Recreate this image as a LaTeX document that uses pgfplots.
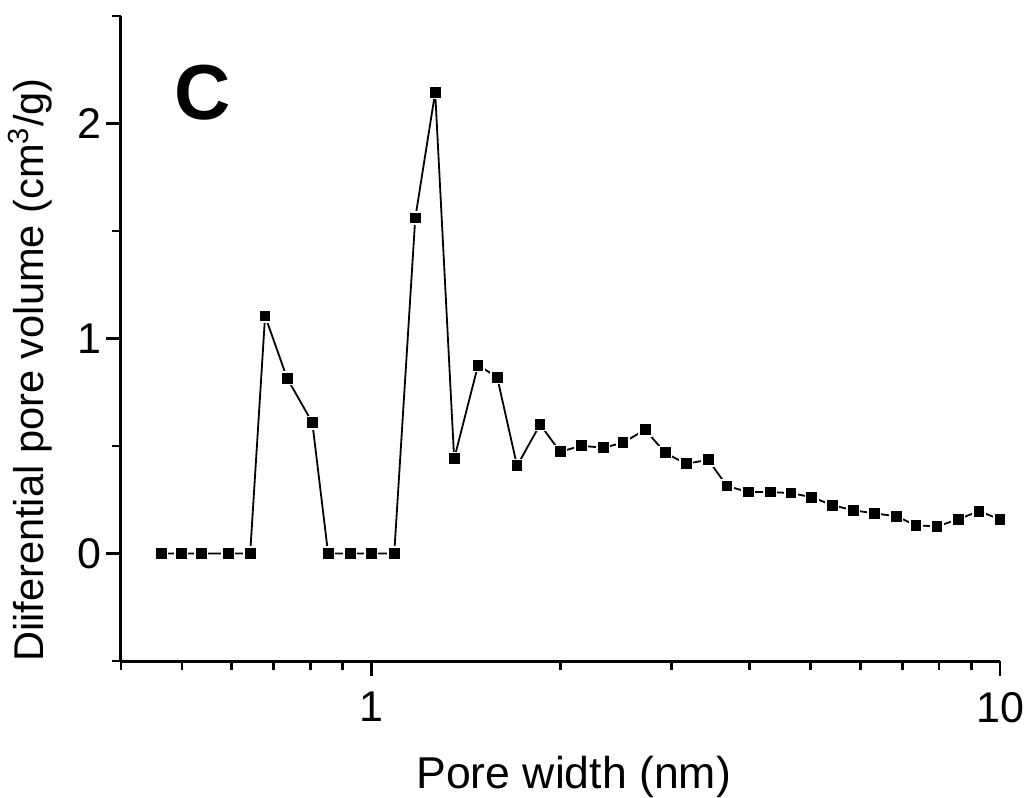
\documentclass[border=0pt]{standalone}
\usepackage{fontspec}
\setmainfont{Liberation Sans}
\usepackage{pgfplots}
\pgfplotsset{compat=1.18}
\begin{document}
\begin{tikzpicture}
\begin{axis}[
  scale only axis, width=439.5pt, height=322.5pt,
  xmode=log, xmin=0.4, xmax=10, ymin=-0.5, ymax=2.5,
  axis x line=bottom, axis y line=left,
  axis line style={line width=1.5pt, -},
  tick align=outside,
  major tick length=7.5pt, minor tick length=4.5pt,
  every tick/.style={line width=1.3pt, black},
  xtick={1,10}, xticklabels={1,10},
  minor xtick={0.4,0.5,0.6,0.7,0.8,0.9,2,3,4,5,6,7,8,9},
  ytick={0,1,2}, yticklabels={0,1,2},
  minor ytick={-0.5,0.5,1.5,2.5},
  ticklabel style={font=\fontsize{21.5}{24}\selectfont},
  xticklabel style={yshift=-4.5pt},
  yticklabel style={inner sep=2pt},
  /pgf/number format/assume math mode=true,
  xlabel={Pore width (nm)},
  ylabel={Diiferential pore volume (cm\textsuperscript{3}/g)},
  xlabel style={font=\fontsize{22.3}{24}\selectfont, at={(axis description cs:0.515,-0.197)}, anchor=base},
  ylabel style={font=\fontsize{20.8}{24}\selectfont, at={(axis description cs:-0.1035,0.451)}, anchor=center},
  clip=false,
]
\addplot[black, line width=0.9pt, mark=square*, mark size=3.1pt,
  mark options={fill=black, draw=white, line width=0.8pt}] table {
x y
0.4636 0
0.499 0
0.537 0
0.593 0
0.642 0
0.678 1.105
0.735 0.815
0.806 0.609
0.854 0
0.926 0
1.0 0
1.088 0
1.175 1.56
1.264 2.145
1.355 0.44
1.479 0.876
1.586 0.82
1.706 0.408
1.856 0.60
1.998 0.473
2.158 0.501
2.338 0.492
2.515 0.515
2.727 0.576
2.934 0.468
3.168 0.417
3.434 0.436
3.68 0.314
3.976 0.286
4.31 0.286
4.65 0.281
5.02 0.262
5.41 0.225
5.84 0.201
6.31 0.187
6.84 0.173
7.35 0.131
7.94 0.126
8.58 0.159
9.26 0.197
10.0 0.159
};
\node[font=\fontsize{39}{42}\selectfont\bfseries, anchor=center] at (axis cs:0.5386,2.145) {C};
\end{axis}
\pgfresetboundingbox
\path[use as bounding box] (-60.5pt,-68pt) rectangle (453pt,330.5pt);
\end{tikzpicture}
\end{document}
